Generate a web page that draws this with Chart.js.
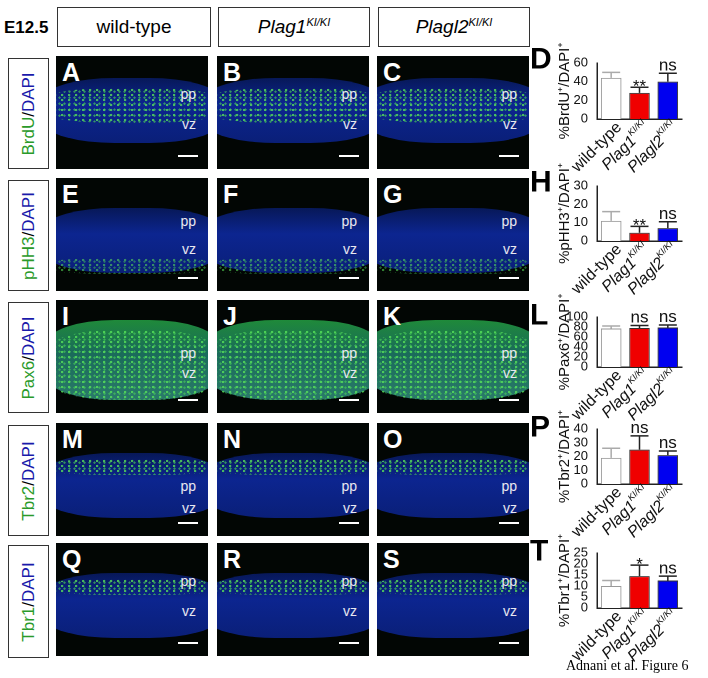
<!DOCTYPE html>
<html><head><meta charset="utf-8">
<script src="https://cdn.jsdelivr.net/npm/chart.js@4/dist/chart.umd.min.js"></script>
<style>
body{margin:0;width:708px;height:678px;background:#fff;position:relative;font-family:Arial,"Liberation Sans",sans-serif;overflow:hidden}
.hdr{position:absolute;top:7px;height:40px;border:1px solid #333;box-sizing:border-box;display:flex;align-items:center;justify-content:center;font-size:19px}
.rl{position:absolute;left:8px;width:41px;border:1px solid #333;box-sizing:border-box;}
.rl > span{position:absolute;left:50%;top:50%;transform:translate(-50%,-50%) rotate(-90deg);white-space:nowrap;font-size:17px}
.img{position:absolute;width:152px;height:113px;overflow:hidden;background:#020604}
.img .band{position:absolute;left:-10px;right:-10px;border-radius:40%/30%}
.img .dots{background-image:radial-gradient(circle at 30% 40%,rgba(90,230,90,0.9) 1px,transparent 1.6px),radial-gradient(circle at 70% 60%,rgba(70,200,90,0.8) 0.8px,transparent 1.5px);background-size:7px 5px,5px 6px}
.img .lt{position:absolute;left:6px;top:2px;color:#fff;font-weight:bold;font-size:25px}
.img .pp,.img .vz{position:absolute;right:12px;color:#e8e8f0;font-size:14px}
.img .sb{position:absolute;right:10px;bottom:12px;width:20px;height:2px;background:#fff}
canvas{position:absolute}
.g{color:#2a9a2a}.b{color:#1a1aaa}
</style></head><body>
<div style="position:absolute;left:4px;top:18px;font-weight:bold;font-size:17px">E12.5</div>
<div class="hdr" style="left:57px;width:154px">wild-type</div>
<div class="hdr" style="left:218px;width:152px"><i>Plag1<sup style="font-size:11px">KI/KI</sup></i></div>
<div class="hdr" style="left:378px;width:152px"><i>Plagl2<sup style="font-size:11px">KI/KI</sup></i></div>
<div id="imgs"></div>
<canvas id="cD"></canvas><canvas id="cH"></canvas><canvas id="cL"></canvas><canvas id="cP"></canvas><canvas id="cT"></canvas>
<div style="position:absolute;left:566px;top:658px;font-family:'Liberation Serif',serif;font-size:14px">Adnani et al. Figure 6</div>
<script>
const categories=["wild-type","Plag1","Plagl2"];
const brduMean=[44,28,40], brduErr=[6,6,9], brduSig=["","**","ns"];
const ph3Mean=[11,4.5,7], ph3Err=[5,3.5,3.5], ph3Sig=["","**","ns"];
const pax6Mean=[77,78,79], pax6Err=[5,5,5], pax6Sig=["","ns","ns"];
const tbr2Mean=[19,25,21], tbr2Err=[7,10,3], tbr2Sig=["","ns","ns"];
const tbr1Mean=[10,14.5,12.5], tbr1Err=[2.5,5,2], tbr1Sig=["","*","ns"];
const markers=["BrdU","pHH3","Pax6","Tbr2","Tbr1"];
const letters=[["A","B","C"],["E","F","G"],["I","J","K"],["M","N","O"],["Q","R","S"]];

const rowTop=[56,178,300,423,543], colLeft=[56,217,377];
let h="";
rowTop.forEach((t,r)=>{
  h+=`<div class="rl" style="top:${t+2}px;height:${r==4?113:111}px"><span><span class="g">${markers[r]}</span>/<span class="b">DAPI</span></span></div>`;
  colLeft.forEach((l,c)=>{
    const bandTop=r==2?20:(r==0?22:30);
    const base=r==2?"linear-gradient(180deg,#1f8a3a 0%,#1a6a5a 40%,#2a7a6a 100%)":"linear-gradient(180deg,#071858 0%,#0c2590 40%,#0a1f78 100%)";
    h+=`<div class="img" style="left:${l}px;top:${t}px">
      <div class="band" style="top:${bandTop}px;height:${r==2?80:65}px;background:${base}"></div>
      <div class="band dots" style="top:${bandTop+(r==1?50:(r>=3?6:10))}px;height:${r==2?70:(r==0?35:16)}px;opacity:${r==1?0.6:0.85}"></div>
      <div class="lt">${letters[r][c]}</div>
      <div class="pp" style="top:${r==1?35:(r==2?45:(r==3?55:30))}px">pp</div>
      <div class="vz" style="top:${r==1?63:(r==2?65:(r==3?77:60))}px">vz</div>
      <div class="sb"></div></div>`;
  });
});
document.getElementById("imgs").innerHTML=h;

const errPlugin={id:"err",afterDatasetsDraw(ch,a,o){
  const ctx=ch.ctx,meta=ch.getDatasetMeta(0),y=ch.scales.y,ds=ch.data.datasets[0];
  ctx.save();
  meta.data.forEach((bar,i)=>{
    const v=ds.data[i],e=ds.err[i];const x=bar.x;const yt=y.getPixelForValue(v+e),yv=y.getPixelForValue(v);
    ctx.strokeStyle=i==0?"#aaa":"#222";ctx.lineWidth=1.5;
    ctx.beginPath();ctx.moveTo(x,yv);ctx.lineTo(x,yt);ctx.moveTo(x-9,yt);ctx.lineTo(x+9,yt);ctx.stroke();
    if(ds.sig[i]){ctx.fillStyle="#111";ctx.font="17px Arial";ctx.textAlign="center";ctx.textBaseline="bottom";
      ctx.fillText(ds.sig[i],x,yt+(ds.sig[i].includes("*")?8:1));}
  });
  const xs=ch.scales.x;
  meta.data.forEach((bar,i)=>{
    ctx.save();ctx.translate(bar.x+8,xs.top+6);ctx.rotate(-Math.PI/4);ctx.fillStyle="#111";ctx.textBaseline="middle";
    if(i==0){ctx.font="16px Arial";ctx.textAlign="right";ctx.fillText("wild-type",0,0);}
    else{ctx.font="italic 9px Arial";const sw=ctx.measureText("KI/KI").width;
      ctx.font="italic 16px Arial";ctx.textAlign="right";ctx.fillText(categories[i],-sw,0);
      ctx.font="italic 9px Arial";ctx.textAlign="left";ctx.fillText("KI/KI",-sw,-6);}
    ctx.restore();
  });
  ctx.save();ctx.translate(35,(y.top+y.bottom)/2);ctx.rotate(-Math.PI/2);ctx.fillStyle="#111";
  ctx.font="15px Arial";ctx.textAlign="center";ctx.textBaseline="middle";ctx.fillText(o.title,0,0);ctx.restore();
  ctx.font="bold 30px Arial";ctx.fillStyle="#000";ctx.textAlign="left";ctx.textBaseline="top";ctx.fillText(o.letter,0,o.ly);
  ctx.restore();
}};
function mk(id,top,bottom,mean,err,sig,max,step,title,letter,ly){
  const c=document.getElementById(id);const padTop=24,xh=58;
  const H=bottom-top+padTop+xh;
  c.style.left="530px";c.style.top=(top-padTop)+"px";c.style.width="176px";c.style.height=H+"px";
  new Chart(c,{type:"bar",data:{labels:categories,datasets:[{data:mean,err:err,sig:sig,
    backgroundColor:["#fff","#f00000","#0000f0"],borderColor:["#999","#333","#333"],borderWidth:1,
    categoryPercentage:0.85,barPercentage:0.85}]},
    options:{responsive:false,animation:false,devicePixelRatio:2,
      layout:{padding:{top:padTop,right:24,left:23,bottom:0}},
      plugins:{legend:{display:false},tooltip:{enabled:false},err:{letter,ly:ly+12,title}},
      scales:{x:{grid:{display:false},border:{color:"#222",width:1.5},ticks:{display:false},afterFit(s){s.height=xh;}},
        y:{min:0,max:max,grid:{display:false},border:{color:"#222",width:1.5},
          ticks:{stepSize:step,autoSkip:false,color:"#111",font:{size:13,family:"Arial"},padding:1},
          afterFit(s){s.width=44;}}}},
    plugins:[errPlugin]});
}
mk("cD",63,119,brduMean,brduErr,brduSig,60,20,"%BrdU⁺/DAPI⁺","D",-6);
mk("cH",186,241,ph3Mean,ph3Err,ph3Sig,30,10,"%pHH3⁺/DAPI⁺","H",-6);
mk("cL",317,367,pax6Mean,pax6Err,pax6Sig,100,20,"%Pax6⁺/DAPI⁺","L",-4);
mk("cP",429,484,tbr2Mean,tbr2Err,tbr2Sig,40,10,"%Tbr2⁺/DAPI⁺","P",-4);
mk("cT",553,608,tbr1Mean,tbr1Err,tbr1Sig,25,5,"%Tbr1⁺/DAPI⁺","T",-4);
</script></body></html>
